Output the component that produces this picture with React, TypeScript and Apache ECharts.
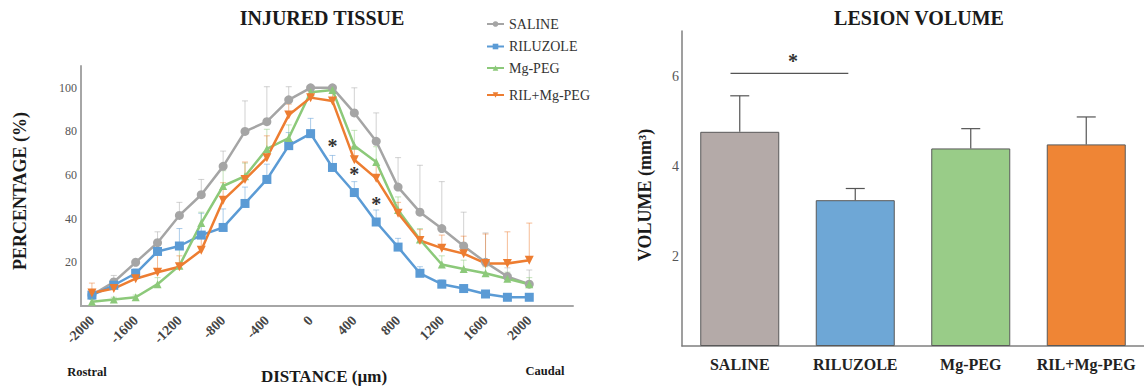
import React, { useEffect, useRef } from "react";
import * as echarts from "echarts";

// ---------- Data: INJURED TISSUE ----------
const distance = [-2000, -1800, -1600, -1400, -1200, -1000, -800, -600, -400, -200, 0, 200, 400, 600, 800, 1000, 1200, 1400, 1600, 1800, 2000];
const xTickLabels = [-2000, -1600, -1200, -800, -400, 0, 400, 800, 1200, 1600, 2000];
const yTickLabels = [20, 40, 60, 80, 100];

const saline = [5, 11, 20, 29, 41.5, 51, 64, 80, 84.5, 94.5, 100, 100, 88.5, 75.5, 54.5, 43, 35.5, 27.5, 20, 13.5, 10];
const salineErr = [1, 3, 1.5, 5, 6, 7, 7, 14, 16, 6, 0, 0, 11.5, 13, 13.5, 21.5, 21.5, 15.5, 13.5, 4, 6.5];
const riluzole = [5, 9.5, 15, 25, 27.5, 32.5, 36, 47, 58, 73.5, 79, 63.5, 52, 38.5, 27, 15, 10, 8, 5.5, 4, 4];
const riluzoleErr = [1, 2, 2, 5, 8, 10, 8.5, 7.5, 7, 6, 7, 5.5, 5, 5.5, 4, 3, 2, 1.5, 1, 1, 1];
const mgPeg = [2, 3, 4, 10, 18.5, 38, 55, 59.5, 72, 77, 98, 99, 73.5, 66, 44, 30.5, 19, 17, 15, 12.5, 10];
const mgPegErr = [1, 1, 1, 3, 10, 5, 7, 6, 9, 6, 2, 1, 7, 7, 6, 5, 4, 4, 3, 3, 3];
const rilMgPeg = [6, 8, 12.5, 15.5, 18, 25.5, 48.5, 58, 68, 87.5, 95.5, 94, 67, 58.5, 42.5, 30, 26.5, 24, 19.5, 19.5, 21];
const rilMgPegErr = [4.5, 2, 2, 10, 5, 6, 8, 8, 10, 5, 3, 4, 6, 6, 5, 5, 6, 8, 13.5, 14.5, 17];

const starX = [200, 400, 600];
const starY = [74.5, 62, 48];

// ---------- Data: LESION VOLUME ----------
const groups = ["SALINE", "RILUZOLE", "Mg-PEG", "RIL+Mg-PEG"];
const volume = [4.76, 3.24, 4.39, 4.48];
const volumeErr = [0.8, 0.26, 0.44, 0.61];
const volumeTicks = [2, 4, 6];
const bracketX = [-0.08, 0.94];
const bracketY = 6.06;
const bracketStar = [0.46, 6.39];

const FONT = "Liberation Serif, DejaVu Serif, serif";
const colors = {
  saline: "#a5a5a5",
  riluzole: "#5b9bd5",
  mgPeg: "#8cc97a",
  rilMgPeg: "#ed7d31",
};
const barColors = ["#b4aaa8", "#6ea7d6", "#99cc88", "#ef8535"];

function errRender(capHalf: number, color: string, opacity: number, lw: number) {
  return (params: any, api: any) => {
    const x = api.value(0);
    const v = api.value(1);
    const e = api.value(2);
    const p0 = api.coord([x, v]);
    const p1 = api.coord([x, v + e]);
    const style = { stroke: color, lineWidth: lw, opacity };
    return {
      type: "group",
      children: [
        { type: "line", shape: { x1: p0[0], y1: p0[1], x2: p1[0], y2: p1[1] }, style },
        { type: "line", shape: { x1: p1[0] - capHalf, y1: p1[1], x2: p1[0] + capHalf, y2: p1[1] }, style },
      ],
    };
  };
}

function starRender(params: any, api: any) {
  const p = api.coord([api.value(0), api.value(1)]);
  return {
    type: "text",
    x: p[0],
    y: p[1] + 3,
    style: {
      text: "*",
      font: `bold 20px ${FONT}`,
      fill: "#333",
      align: "center",
      verticalAlign: "middle",
    },
  };
}

function lineSeries(name: string, data: number[], color: string, symbol: string, size: number, rotate = 0) {
  return {
    name,
    type: "line",
    xAxisIndex: 0,
    yAxisIndex: 0,
    data: distance.map((d, i) => [d, data[i]]),
    symbol,
    symbolSize: size,
    symbolRotate: rotate,
    lineStyle: { color, width: 2.5 },
    itemStyle: { color },
    z: 3,
  };
}

function errSeries(name: string, data: number[], err: number[], color: string) {
  return {
    name: name + " err",
    type: "custom",
    xAxisIndex: 0,
    yAxisIndex: 0,
    data: distance.map((d, i) => [d, data[i], err[i]]),
    encode: { x: 0, y: 1 },
    renderItem: errRender(3, color, 0.5, 1),
    z: 1,
    silent: true,
  };
}

function legendItem(name: string, top: number) {
  return {
    data: [name],
    left: 486,
    top,
    padding: 0,
    itemWidth: 17,
    itemHeight: 7,
    textStyle: { fontFamily: FONT, fontSize: 14, color: "#333" },
    selectedMode: false,
  };
}

export default function App() {
  const ref = useRef<HTMLDivElement>(null);
  useEffect(() => {
    if (!ref.current) return;
    const chart = echarts.init(ref.current, undefined, { renderer: "svg" });
    const option: any = {
      animation: false,
      legend: [
        legendItem("SALINE", 17),
        legendItem("RILUZOLE", 39.5),
        legendItem("Mg-PEG", 61),
        legendItem("RIL+Mg-PEG", 88),
      ],
      grid: [
        { left: 81, top: 66, width: 492, height: 240 },
        { left: 682, top: 31, width: 474, height: 315 },
      ],
      xAxis: [
        {
          type: "value",
          gridIndex: 0,
          min: -2100,
          max: 2400,
          axisLine: { onZero: false, lineStyle: { color: "#a6a6a6", width: 2 } },
          axisTick: { show: false },
          splitLine: { show: false },
          axisLabel: {
            customValues: xTickLabels,
            formatter: (v: number) => String(v),
            rotate: 45,
            margin: 12,
            fontFamily: FONT,
            fontSize: 14,
            color: "#444",
            fontWeight: "bold",
          },
        },
        {
          type: "category",
          gridIndex: 1,
          data: groups,
          axisLine: { onZero: false, lineStyle: { color: "#7f7f7f", width: 1.5 } },
          axisTick: { show: false },
          axisLabel: { interval: 0, fontFamily: FONT, fontSize: 16, fontWeight: "bold", color: "#222", margin: 10 },
        },
        {
          type: "value",
          gridIndex: 1,
          min: -0.5,
          max: 3.5,
          show: false,
        },
      ],
      yAxis: [
        {
          type: "value",
          gridIndex: 0,
          min: 0,
          max: 110,
          axisLine: { show: true, onZero: false, lineStyle: { color: "#a6a6a6", width: 2 } },
          axisTick: { show: false },
          splitLine: { show: false },
          axisLabel: { customValues: yTickLabels, fontFamily: FONT, fontSize: 12, color: "#555", margin: 4 },
        },
        {
          type: "value",
          gridIndex: 1,
          min: 0,
          max: 7,
          axisLine: { show: true, onZero: false, lineStyle: { color: "#7f7f7f", width: 1.5 } },
          axisTick: { show: false },
          splitLine: { show: false },
          axisLabel: { customValues: volumeTicks, fontFamily: FONT, fontSize: 14, color: "#555", margin: 3 },
        },
      ],
      series: [
        errSeries("SALINE", saline, salineErr, colors.saline),
        errSeries("RILUZOLE", riluzole, riluzoleErr, colors.riluzole),
        errSeries("Mg-PEG", mgPeg, mgPegErr, colors.mgPeg),
        errSeries("RIL+Mg-PEG", rilMgPeg, rilMgPegErr, colors.rilMgPeg),
        lineSeries("SALINE", saline, colors.saline, "circle", 9),
        lineSeries("RILUZOLE", riluzole, colors.riluzole, "rect", 9),
        lineSeries("Mg-PEG", mgPeg, colors.mgPeg, "triangle", 8),
        lineSeries("RIL+Mg-PEG", rilMgPeg, colors.rilMgPeg, "triangle", 9, 180),
        {
          name: "stars",
          type: "custom",
          xAxisIndex: 0,
          yAxisIndex: 0,
          data: starX.map((x, i) => [x, starY[i]]),
          encode: { x: 0, y: 1 },
          renderItem: starRender,
          z: 5,
          silent: true,
        },
        {
          name: "volume",
          type: "bar",
          xAxisIndex: 1,
          yAxisIndex: 1,
          barWidth: 79,
          data: volume.map((v, i) => ({
            value: v,
            itemStyle: { color: barColors[i], borderColor: "#595959", borderWidth: 1 },
          })),
          z: 2,
        },
        {
          name: "volume err",
          type: "custom",
          xAxisIndex: 1,
          yAxisIndex: 1,
          data: volume.map((v, i) => [i, v, volumeErr[i]]),
          encode: { x: 0, y: 1 },
          renderItem: errRender(9.5, "#555", 1, 1.2),
          z: 3,
          silent: true,
        },
        {
          name: "bracket",
          type: "line",
          xAxisIndex: 2,
          yAxisIndex: 1,
          data: bracketX.map((x) => [x, bracketY]),
          symbol: "none",
          lineStyle: { color: "#555", width: 1.2 },
          z: 3,
        },
        {
          name: "bracket star",
          type: "custom",
          xAxisIndex: 2,
          yAxisIndex: 1,
          data: [bracketStar],
          encode: { x: 0, y: 1 },
          renderItem: starRender,
          z: 5,
          silent: true,
        },
      ],
      graphic: [
        {
          type: "text",
          x: 322,
          y: 18,
          style: { text: "INJURED TISSUE", font: `bold 20px ${FONT}`, fill: "#1a1a1a", align: "center", verticalAlign: "middle" },
        },
        {
          type: "text",
          x: 919,
          y: 18,
          style: { text: "LESION VOLUME", font: `bold 20px ${FONT}`, fill: "#1a1a1a", align: "center", verticalAlign: "middle" },
        },
        {
          type: "text",
          x: 20,
          y: 191,
          rotation: Math.PI / 2,
          style: { text: "PERCENTAGE (%)", font: `bold 18px ${FONT}`, fill: "#1a1a1a", align: "center", verticalAlign: "middle" },
        },
        {
          type: "text",
          x: 645,
          y: 195,
          rotation: Math.PI / 2,
          style: { text: "VOLUME (mm³)", font: `bold 18px ${FONT}`, fill: "#1a1a1a", align: "center", verticalAlign: "middle" },
        },
        {
          type: "text",
          x: 324,
          y: 376,
          style: { text: "DISTANCE (µm)", font: `bold 17px ${FONT}`, fill: "#1a1a1a", align: "center", verticalAlign: "middle" },
        },
        {
          type: "text",
          x: 87,
          y: 372,
          style: { text: "Rostral", font: `bold 12.5px ${FONT}`, fill: "#1a1a1a", align: "center", verticalAlign: "middle" },
        },
        {
          type: "text",
          x: 545,
          y: 371,
          style: { text: "Caudal", font: `bold 12.5px ${FONT}`, fill: "#1a1a1a", align: "center", verticalAlign: "middle" },
        },
      ],
    };
    chart.setOption(option);
    return () => chart.dispose();
  }, []);
  return (
    <div
      ref={ref}
      style={{ position: "absolute", left: 0, top: 0, width: 1144, height: 388, background: "#fff" }}
    />
  );
}
